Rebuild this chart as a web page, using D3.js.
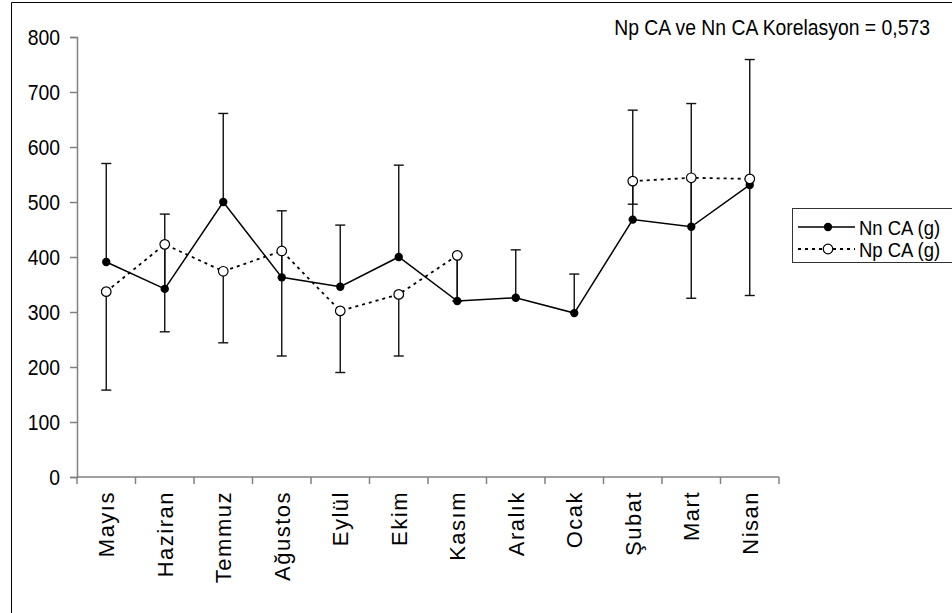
<!DOCTYPE html>
<html><head><meta charset="utf-8">
<script src="https://cdn.jsdelivr.net/npm/d3@7/dist/d3.min.js"></script>
<style>
html,body{margin:0;padding:0;background:#fff;}
svg{display:block;}
text{font-family:"Liberation Sans",Arial,sans-serif;fill:#000;}
</style></head>
<body>
<svg id="c" width="952" height="613"></svg>
<script>
const months = ["Mayıs","Haziran","Temmuz","Ağustos","Eylül","Ekim","Kasım","Aralık","Ocak","Şubat","Mart","Nisan"];
const nnValues = [391, 342, 500, 363, 346, 400, 320, 326, 298, 468, 455, 531];
const npValues = [337, 423, 374, 411, 302, 332, 403, null, null, 538, 544, 542];
const nnPlusErr = [179, 136, 161, 121, 112, 167, 83, 87, 71, 199, 224, 228];
const npMinusErr = [179, 159, 130, 191, 112, 112, 83, null, null, 42, 219, 212];
const yTicks = [0, 100, 200, 300, 400, 500, 600, 700, 800];
const seriesNames = ["Nn CA (g)", "Np CA (g)"];
const titleText = "Np CA ve Nn CA Korelasyon = 0,573";

const svg = d3.select("#c");
const FS = 22, K = 0.88;

// frame
svg.append("path").attr("d","M11.5,700V2.5H960").attr("fill","none").attr("stroke","#000").attr("stroke-width",1);

const x = d3.scaleBand().domain(months).range([77,779]);
const y = d3.scaleLinear().domain([0,800]).range([477,37]);
const cx = m => x(m) + x.bandwidth()/2;

// y axis
const ya = svg.append("g").attr("transform","translate(77,0)")
  .call(d3.axisLeft(y).tickValues(yTicks).tickSize(7).tickPadding(10).tickFormat(d3.format("d")));
ya.select(".domain").attr("stroke","#808080").attr("stroke-width",1.5);
ya.selectAll(".tick line").attr("stroke","#808080").attr("stroke-width",1.5);
ya.selectAll(".tick text").attr("font-size",FS).attr("font-family","Liberation Sans, Arial, sans-serif").attr("fill","#000")
  .attr("x",0).attr("transform",`translate(-17,0) scale(${K},1)`);

// x axis
const xa = svg.append("g").attr("transform","translate(0,477)")
  .call(d3.axisBottom(x).tickSize(0).tickPadding(0));
xa.select(".domain").attr("stroke","#808080").attr("stroke-width",1.5).attr("d","M77,0H779");
xa.selectAll(".tick text")
  .attr("font-size",FS).attr("font-family","Liberation Sans, Arial, sans-serif").attr("fill","#000")
  .attr("letter-spacing","1.5px")
  .attr("text-anchor","end").attr("x",0).attr("y",0).attr("dy","0.36em")
  .attr("transform","translate(0,14) rotate(-90)");
const edges = months.map(m => x(m)).concat([x.range()[1]]);
xa.selectAll(".edge").data(edges).enter().append("line")
  .attr("x1",d=>d).attr("x2",d=>d).attr("y1",0).attr("y2",7)
  .attr("stroke","#808080").attr("stroke-width",1.5);

// error bars
const g = svg.append("g");
const cap = 5;
months.forEach((m,i)=>{
  const px = cx(m);
  if (nnPlusErr[i] != null){
    const y0 = y(nnValues[i]), y1 = y(nnValues[i] + nnPlusErr[i]);
    g.append("line").attr("x1",px).attr("x2",px).attr("y1",y0).attr("y2",y1).attr("stroke","#111").attr("stroke-width",1.4);
    g.append("line").attr("x1",px-cap).attr("x2",px+cap).attr("y1",y1).attr("y2",y1).attr("stroke","#111").attr("stroke-width",1.4);
  }
  if (npValues[i] != null && npMinusErr[i] != null){
    const y0 = y(npValues[i]), y1 = y(npValues[i] - npMinusErr[i]);
    g.append("line").attr("x1",px).attr("x2",px).attr("y1",y0).attr("y2",y1).attr("stroke","#111").attr("stroke-width",1.4);
    g.append("line").attr("x1",px-cap).attr("x2",px+cap).attr("y1",y1).attr("y2",y1).attr("stroke","#111").attr("stroke-width",1.4);
  }
});

// lines
const nnLine = d3.line().x((d,i)=>cx(months[i])).y(d=>y(d));
const npLine = d3.line().defined(d=>d!=null).x((d,i)=>cx(months[i])).y(d=>y(d));
svg.append("path").attr("d",nnLine(nnValues)).attr("fill","none").attr("stroke","#000").attr("stroke-width",1.5);
svg.append("path").attr("d",npLine(npValues)).attr("fill","none").attr("stroke","#000").attr("stroke-width",1.8).attr("stroke-dasharray","3,4");

// markers
svg.selectAll(".nn").data(nnValues).enter().append("circle")
  .attr("cx",(d,i)=>cx(months[i])).attr("cy",d=>y(d)).attr("r",4.2).attr("fill","#000");
svg.selectAll(".np").data(npValues.map((v,i)=>({v,i})).filter(d=>d.v!=null)).enter().append("circle")
  .attr("cx",d=>cx(months[d.i])).attr("cy",d=>y(d.v)).attr("r",4.8).attr("fill","#fff").attr("stroke","#000").attr("stroke-width",1.2);

// title
svg.append("text").attr("text-anchor","end").attr("font-size",FS)
  .attr("transform",`translate(930,35) scale(${K},1)`).text(titleText);

// legend
const lg = svg.append("g");
lg.append("rect").attr("x",792.5).attr("y",208.5).attr("width",200).attr("height",54).attr("fill","#fff").attr("stroke","#333").attr("stroke-width",1);
const rows = [227, 249];
lg.append("line").attr("x1",798).attr("x2",855).attr("y1",rows[0]).attr("y2",rows[0]).attr("stroke","#000").attr("stroke-width",1.5);
lg.append("circle").attr("cx",828).attr("cy",rows[0]).attr("r",4.2).attr("fill","#000");
lg.append("line").attr("x1",798).attr("x2",855).attr("y1",rows[1]).attr("y2",rows[1]).attr("stroke","#000").attr("stroke-width",1.8).attr("stroke-dasharray","3,4");
lg.append("circle").attr("cx",828).attr("cy",rows[1]).attr("r",4.8).attr("fill","#fff").attr("stroke","#000").attr("stroke-width",1.2);
lg.selectAll(".lt").data(seriesNames).enter().append("text")
  .attr("dy","0.36em").attr("font-size",21)
  .attr("transform",(d,i)=>`translate(859,${rows[i]}) scale(${K},1)`).text(d=>d);
</script>
</body></html>
